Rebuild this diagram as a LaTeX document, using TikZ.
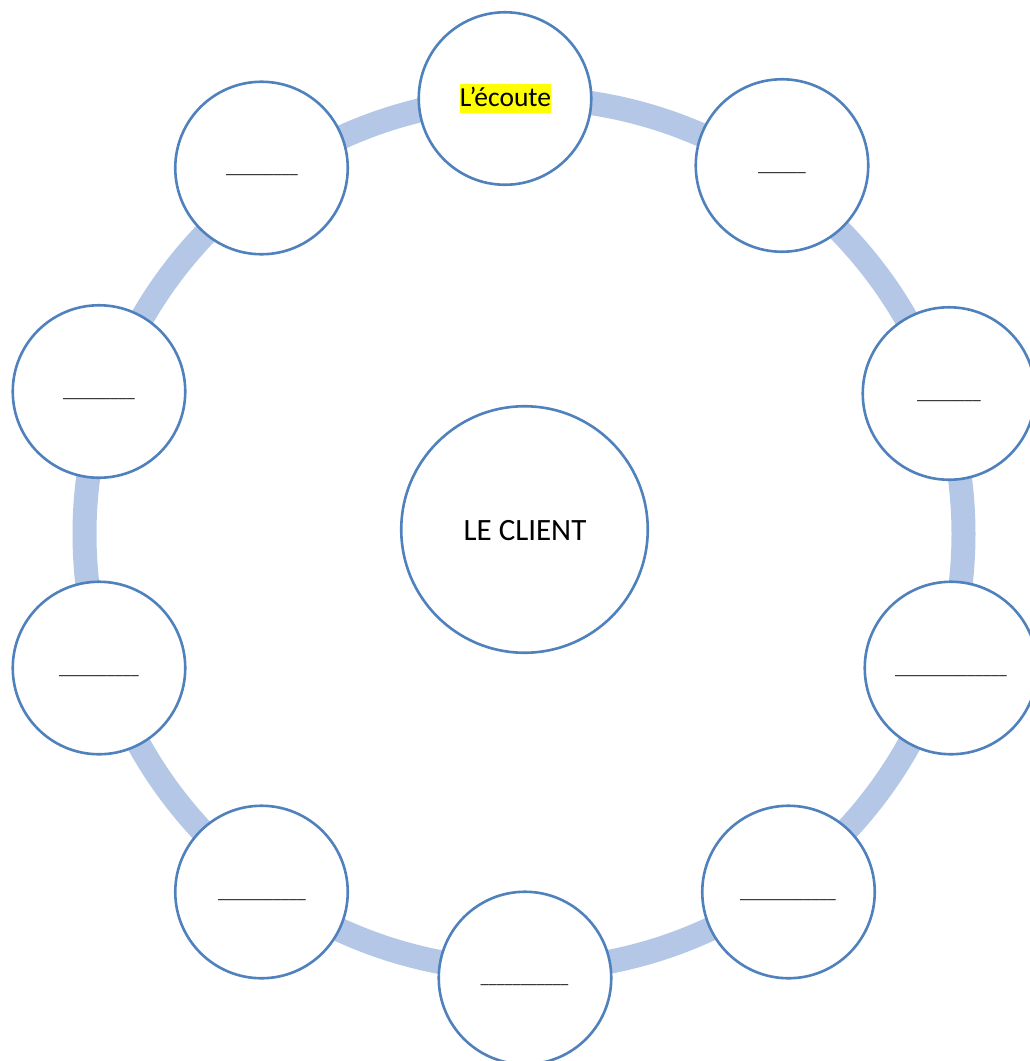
\documentclass[tikz,border=0pt]{standalone}
\usepackage{fontspec}
\setmainfont{Carlito}
\definecolor{ringblue}{RGB}{180,199,231}
\definecolor{edgeblue}{RGB}{79,129,189}
\definecolor{hl}{RGB}{255,255,0}
\begin{document}
\begin{tikzpicture}[x=1pt,y=-1pt,
  ring/.style={draw=ringblue,line width=24pt},
  bubble/.style={circle,draw=edgeblue,line width=2.6pt,fill=white,minimum size=172.5pt,inner sep=0pt},
  hub/.style={circle,draw=edgeblue,line width=2.6pt,fill=white,minimum size=246.5pt,inner sep=0pt},
  blank/.style={anchor=base,inner sep=0pt,font=\fontsize{16}{18}\selectfont}
]
\useasboundingbox (0,0) rectangle (1030,1061);
\clip (0,0) rectangle (1030,1061);
\fill[white] (0,0) rectangle (1030,1061);
\draw[ring] (524,534) ellipse [x radius=439.5pt, y radius=436pt];

\node[hub] (client) at (524.5,529.5) {};
\node[anchor=base,inner sep=0pt,font=\fontsize{31}{36}\selectfont] (clientlbl) at (525,540) {LE CLIENT};

\node[bubble] (c1) at (505,98.5) {};
\node[anchor=base,inner sep=0pt,fill=hl,text height=22.5pt,text depth=6.3pt,font=\fontsize{27.5}{31}\selectfont] (t1) at (505.5,106.7) {L’écoute};

\node[bubble] (c2) at (782,165.5) {};
\node[bubble] (c3) at (949,393.5) {};
\node[bubble] (c4) at (951,668) {};
\node[bubble] (c5) at (788.5,892) {};
\node[bubble] (c6) at (525,978) {};
\node[bubble] (c7) at (261.5,892) {};
\node[bubble] (c8) at (99,668) {};
\node[bubble] (c9) at (99,391.5) {};
\node[bubble] (c10) at (261.5,168) {};

\node[blank] (t2) at (782,171) {\_\_\_\_\_\_};
\node[blank] (t3) at (949,399) {\_\_\_\_\_\_\_\_};
\node[blank] (t4) at (951,674) {\_\_\_\_\_\_\_\_\_\_\_\_\_\_};
\node[blank] (t5) at (788,898) {\_\_\_\_\_\_\_\_\_\_\_\_};
\node[blank] (t6) at (524.5,983) {\_\_\_\_\_\_\_\_\_\_\_};
\node[blank] (t7) at (262,898) {\_\_\_\_\_\_\_\_\_\_\_};
\node[blank] (t8) at (99,674) {\_\_\_\_\_\_\_\_\_\_};
\node[blank] (t9) at (99,397) {\_\_\_\_\_\_\_\_\_};
\node[blank] (t10) at (262,173) {\_\_\_\_\_\_\_\_\_};
\end{tikzpicture}
\end{document}
